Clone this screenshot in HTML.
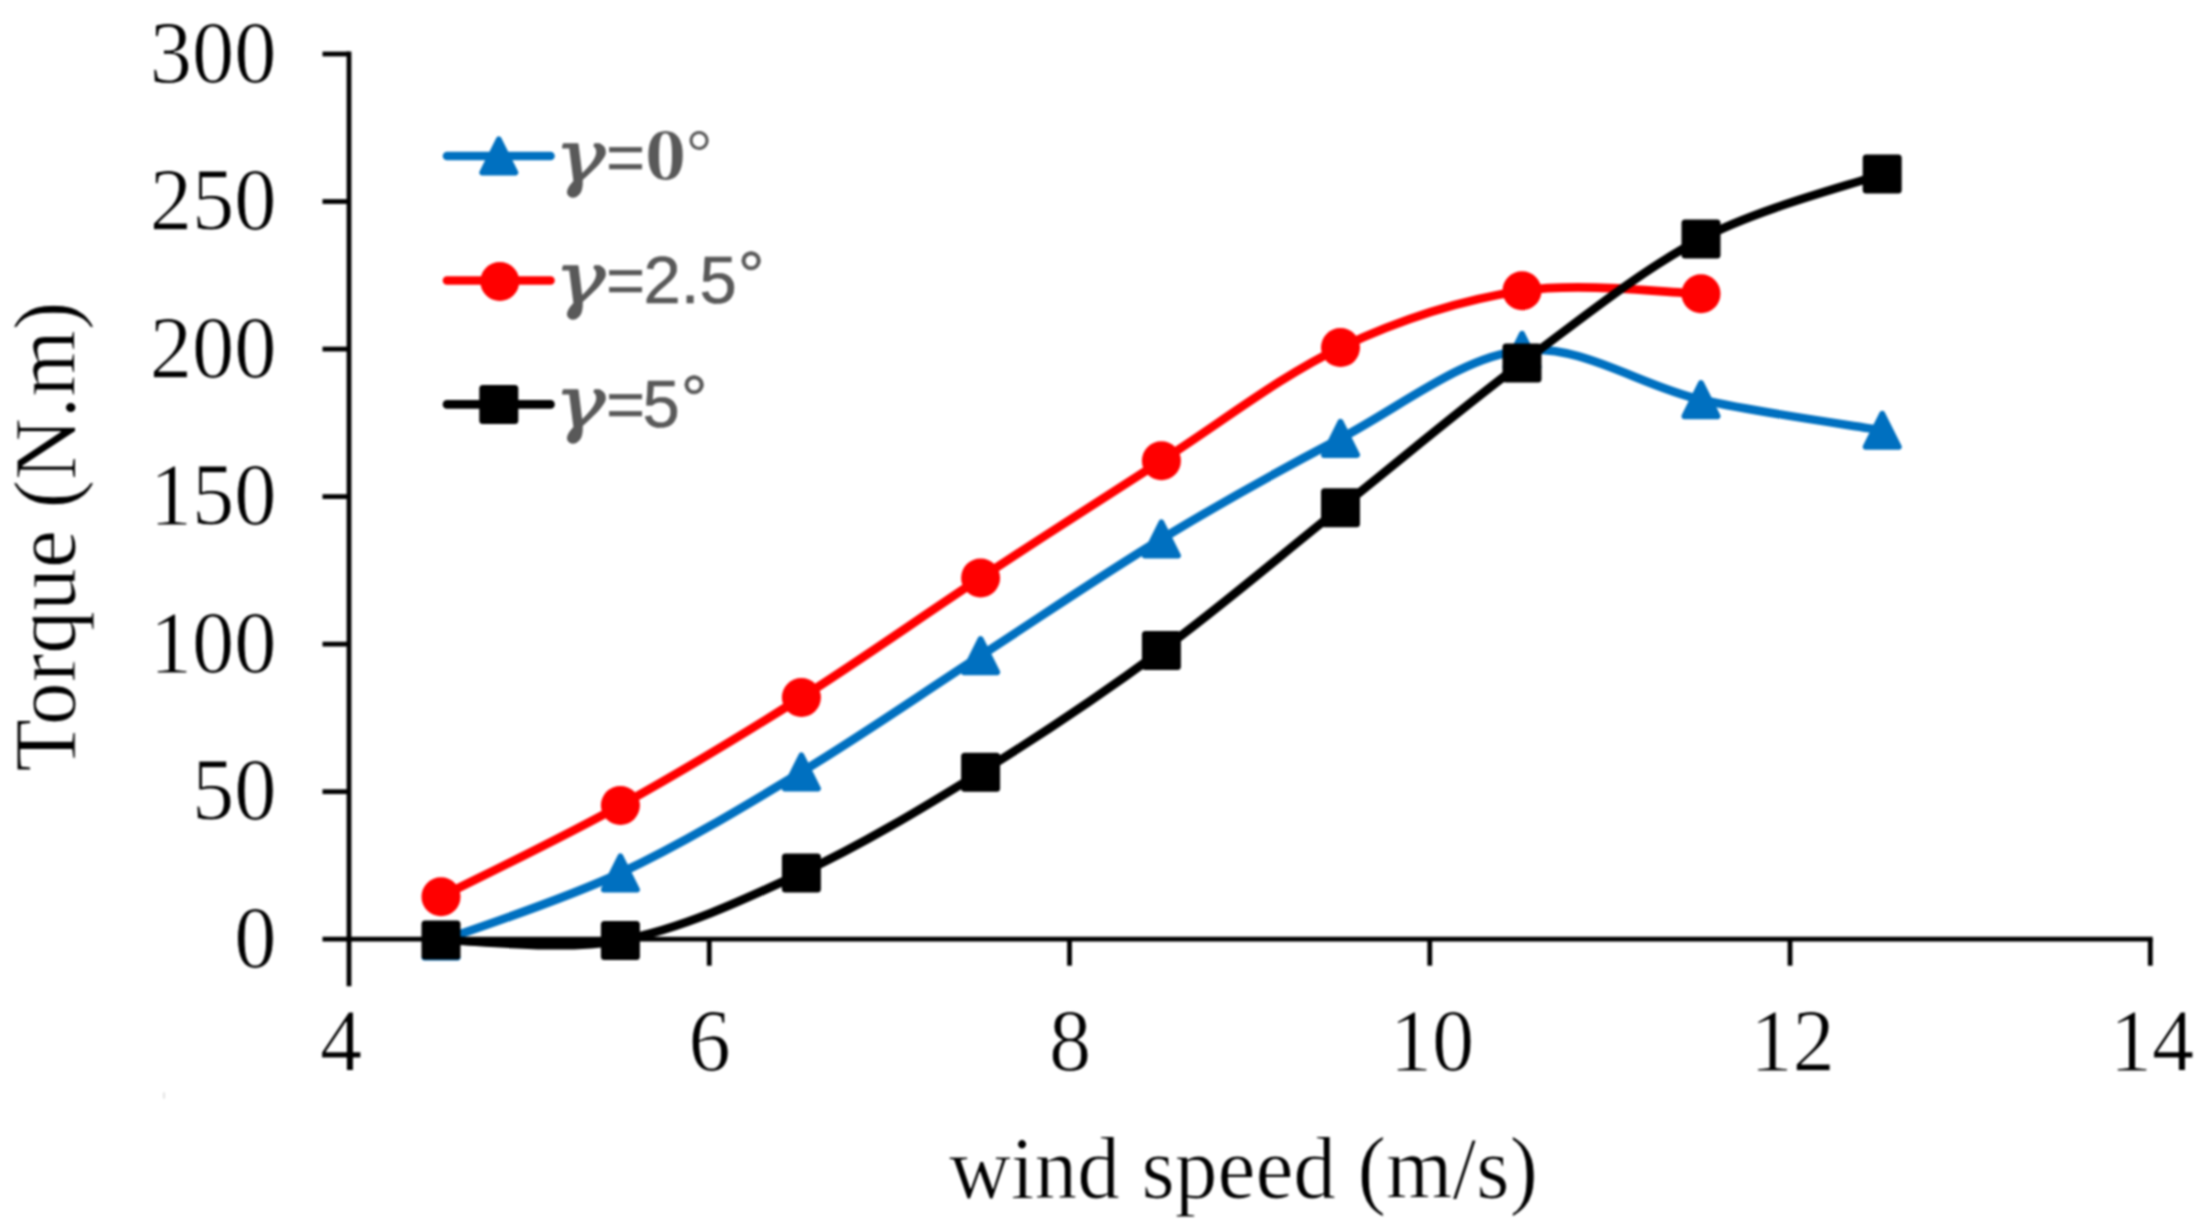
<!DOCTYPE html>
<html lang="en"><head><meta charset="utf-8"><title>Torque versus wind speed</title>
<style>
html,body{margin:0;padding:0;background:#fff;}
body{width:2201px;height:1230px;overflow:hidden;}
svg{display:block;filter:blur(0.8px);}
.tk{font-family:"Liberation Serif","DejaVu Serif",serif;font-size:88.5px;fill:#000;stroke:#fff;stroke-width:1px;stroke-linejoin:round;}
.g{font-family:"DejaVu Serif","Liberation Serif",serif;font-style:italic;font-size:72px;fill:#595959;stroke:#595959;stroke-width:1.4px;stroke-linejoin:round;}
.sb2{font-family:"Liberation Serif","DejaVu Serif",serif;font-size:63px;fill:#595959;}
.sb{font-family:"Liberation Serif","DejaVu Serif",serif;font-weight:bold;font-size:74.5px;fill:#595959;stroke:#fff;stroke-width:1.1px;}
.ss{font-family:"Liberation Sans","DejaVu Sans",sans-serif;font-size:67px;fill:#595959;stroke:#595959;stroke-width:0.5px;}
</style></head><body>
<svg width="2201" height="1230" viewBox="0 0 2201 1230">
<rect x="-20" y="-20" width="2241" height="1270" fill="#fff"/>
<rect x="163" y="1092.5" width="2" height="6" fill="#e2e2e2"/>
<g fill="none" stroke-linecap="round" stroke-linejoin="round" stroke-width="8.6">
<path d="M441 941 C470.9 929.67 560.33 901.17 620.4 873 C680.47 844.83 741.37 808.22 801.4 772 C861.43 735.78 920.6 694.53 980.6 655.7 C1040.6 616.87 1101.42 575.22 1161.4 539 C1221.38 502.78 1280.4 469.85 1340.5 438.4 C1400.6 406.95 1461.92 356.75 1522 350.3 C1582.08 343.85 1640.97 386.37 1701 399.7 C1761.03 413.03 1852 425.2 1882.2 430.3" stroke="#0070C0"/>
</g>
<g><path d="M441 924.5 L457.5 957.5 L424.5 957.5 Z" fill="#0070C0" stroke="#0070C0" stroke-width="6" stroke-linejoin="round"/><path d="M620.4 856.5 L636.9 889.5 L603.9 889.5 Z" fill="#0070C0" stroke="#0070C0" stroke-width="6" stroke-linejoin="round"/><path d="M801.4 755.5 L817.9 788.5 L784.9 788.5 Z" fill="#0070C0" stroke="#0070C0" stroke-width="6" stroke-linejoin="round"/><path d="M980.6 639.2 L997.1 672.2 L964.1 672.2 Z" fill="#0070C0" stroke="#0070C0" stroke-width="6" stroke-linejoin="round"/><path d="M1161.4 522.5 L1177.9 555.5 L1144.9 555.5 Z" fill="#0070C0" stroke="#0070C0" stroke-width="6" stroke-linejoin="round"/><path d="M1340.5 421.9 L1357 454.9 L1324 454.9 Z" fill="#0070C0" stroke="#0070C0" stroke-width="6" stroke-linejoin="round"/><path d="M1522 333.8 L1538.5 366.8 L1505.5 366.8 Z" fill="#0070C0" stroke="#0070C0" stroke-width="6" stroke-linejoin="round"/><path d="M1701 383.2 L1717.5 416.2 L1684.5 416.2 Z" fill="#0070C0" stroke="#0070C0" stroke-width="6" stroke-linejoin="round"/><path d="M1882.2 413.8 L1898.7 446.8 L1865.7 446.8 Z" fill="#0070C0" stroke="#0070C0" stroke-width="6" stroke-linejoin="round"/></g>
<g fill="none" stroke-linecap="round" stroke-linejoin="round" stroke-width="8.6">
<path d="M441 896.8 C470.9 881.57 560.33 838.62 620.4 805.4 C680.47 772.18 741.37 735.42 801.4 697.5 C861.43 659.58 920.6 617.35 980.6 577.9 C1040.6 538.45 1101.42 499.18 1161.4 460.8 C1221.38 422.42 1280.4 375.93 1340.5 347.6 C1400.6 319.27 1461.92 299.78 1522 290.8 C1582.08 281.82 1671.17 293.22 1701 293.7" stroke="#FF0000"/>
</g>
<g><circle cx="441" cy="896.8" r="19.5" fill="#FF0000"/><circle cx="620.4" cy="805.4" r="19.5" fill="#FF0000"/><circle cx="801.4" cy="697.5" r="19.5" fill="#FF0000"/><circle cx="980.6" cy="577.9" r="19.5" fill="#FF0000"/><circle cx="1161.4" cy="460.8" r="19.5" fill="#FF0000"/><circle cx="1340.5" cy="347.6" r="19.5" fill="#FF0000"/><circle cx="1522" cy="290.8" r="19.5" fill="#FF0000"/><circle cx="1701" cy="293.7" r="19.5" fill="#FF0000"/></g>
<g stroke="#000" stroke-width="4.8" fill="none" stroke-linecap="butt">
<path d="M349 51.6 V986.2"/>
<path d="M322.5 939.2 H2152.7"/>
<path d="M322.5 791.67 H349"/>
<path d="M322.5 644.13 H349"/>
<path d="M322.5 496.6 H349"/>
<path d="M322.5 349.07 H349"/>
<path d="M322.5 201.53 H349"/>
<path d="M322.5 54 H349"/>
<path d="M709.26 939.2 V965.7"/>
<path d="M1069.52 939.2 V965.7"/>
<path d="M1429.78 939.2 V965.7"/>
<path d="M1790.04 939.2 V965.7"/>
<path d="M2150.3 939.2 V965.7"/>
</g>
<g fill="none" stroke-linecap="round" stroke-linejoin="round" stroke-width="8.6">
<path d="M441 940 C470.9 940.07 560.33 951.57 620.4 940.4 C680.47 929.23 741.37 901.02 801.4 873 C861.43 844.98 920.6 809.38 980.6 772.3 C1040.6 735.22 1101.42 694.6 1161.4 650.5 C1221.38 606.4 1280.4 555.62 1340.5 507.7 C1400.6 459.78 1461.92 407.8 1522 363 C1582.08 318.2 1640.97 270.4 1701 238.9 C1761.03 207.4 1852 184.82 1882.2 174" stroke="#000000"/>
</g>
<g><rect x="421.5" y="920.5" width="39" height="39" rx="3.5" ry="3.5" fill="#000000"/><rect x="600.9" y="920.9" width="39" height="39" rx="3.5" ry="3.5" fill="#000000"/><rect x="781.9" y="853.5" width="39" height="39" rx="3.5" ry="3.5" fill="#000000"/><rect x="961.1" y="752.8" width="39" height="39" rx="3.5" ry="3.5" fill="#000000"/><rect x="1141.9" y="631" width="39" height="39" rx="3.5" ry="3.5" fill="#000000"/><rect x="1321" y="488.2" width="39" height="39" rx="3.5" ry="3.5" fill="#000000"/><rect x="1502.5" y="343.5" width="39" height="39" rx="3.5" ry="3.5" fill="#000000"/><rect x="1681.5" y="219.4" width="39" height="39" rx="3.5" ry="3.5" fill="#000000"/><rect x="1862.7" y="154.5" width="39" height="39" rx="3.5" ry="3.5" fill="#000000"/></g>
<text class="tk" transform="translate(276.5 966.7) scale(0.955 1)" text-anchor="end">0</text>
<text class="tk" transform="translate(276.5 819.17) scale(0.955 1)" text-anchor="end">50</text>
<text class="tk" transform="translate(276.5 671.63) scale(0.955 1)" text-anchor="end">100</text>
<text class="tk" transform="translate(276.5 524.1) scale(0.955 1)" text-anchor="end">150</text>
<text class="tk" transform="translate(276.5 376.57) scale(0.955 1)" text-anchor="end">200</text>
<text class="tk" transform="translate(276.5 229.03) scale(0.955 1)" text-anchor="end">250</text>
<text class="tk" transform="translate(276.5 81.5) scale(0.955 1)" text-anchor="end">300</text>
<text class="tk" transform="translate(341 1069.8) scale(0.955 1)" text-anchor="middle">4</text>
<text class="tk" transform="translate(709.7 1069.8) scale(0.955 1)" text-anchor="middle">6</text>
<text class="tk" transform="translate(1070 1069.8) scale(0.955 1)" text-anchor="middle">8</text>
<text class="tk" transform="translate(1432 1069.8) scale(0.955 1)" text-anchor="middle">10</text>
<text class="tk" transform="translate(1792.5 1069.8) scale(0.955 1)" text-anchor="middle">12</text>
<text class="tk" transform="translate(2152 1069.8) scale(0.955 1)" text-anchor="middle">14</text>
<text class="tk" x="1243.5" y="1198.2" text-anchor="middle" textLength="589" lengthAdjust="spacingAndGlyphs">wind speed (m/s)</text>
<text class="tk" transform="translate(74.5 536.5) rotate(-90)" text-anchor="middle" textLength="470" lengthAdjust="spacingAndGlyphs">Torque (N.m)</text>
<g stroke-linecap="round" stroke-width="8.6" fill="none">
<path d="M447 156 H550.5" stroke="#0070C0"/>
<path d="M447 280.5 H550.5" stroke="#FF0000"/>
<path d="M447 404.4 H550.5" stroke="#000000"/>
</g>
<path d="M498.8 139.5 L515.3 172.5 L482.3 172.5 Z" fill="#0070C0" stroke="#0070C0" stroke-width="6" stroke-linejoin="round"/>
<circle cx="499.8" cy="281.5" r="19.5" fill="#FF0000"/>
<rect x="479.3" y="384.9" width="39" height="39" rx="3.5" ry="3.5" fill="#000000"/>
<text y="180"><tspan class="g" x="554.5" dy="1.5" textLength="50.8" lengthAdjust="spacingAndGlyphs">γ</tspan><tspan class="ss" x="606" dy="-1.5">=</tspan><tspan class="sb" x="644.5" textLength="42.1" lengthAdjust="spacingAndGlyphs">0</tspan><tspan class="sb2" x="686.5" dy="-7.5">°</tspan></text>
<text y="302.5"><tspan class="g" x="554.5" dy="1.5" textLength="50.8" lengthAdjust="spacingAndGlyphs">γ</tspan><tspan class="ss" x="606" dy="-1.5">=</tspan><tspan class="ss" x="643.5">2.5</tspan><tspan class="ss" dx="1" dy="-5">°</tspan></text>
<text y="426.7"><tspan class="g" x="554.5" dy="1.5" textLength="50.8" lengthAdjust="spacingAndGlyphs">γ</tspan><tspan class="ss" x="606" dy="-1.5">=</tspan><tspan class="ss" x="642.5">5</tspan><tspan class="ss" dx="1" dy="-5">°</tspan></text>
</svg>
</body></html>
